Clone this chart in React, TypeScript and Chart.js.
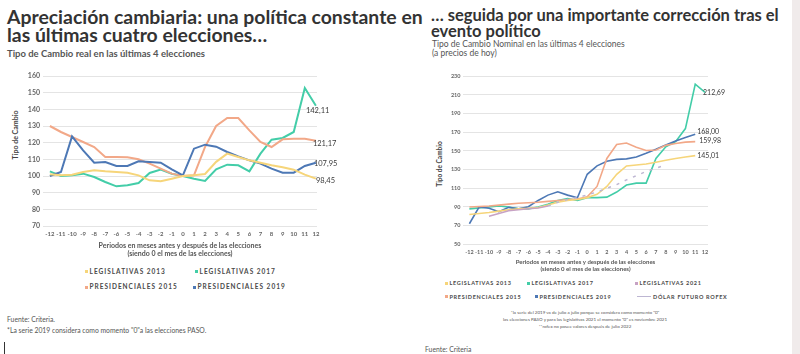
import React, { useEffect, useRef } from "react";
import { Chart, registerables } from "chart.js";

Chart.register(...registerables);

// ---------- DATA ----------
const PERIODS = [-12, -11, -10, -9, -8, -7, -6, -5, -4, -3, -2, -1, 0, 1, 2, 3, 4, 5, 6, 7, 8, 9, 10, 11, 12];

// Left chart: Tipo de Cambio real (base 100 = mes 0)
const realLeg2013 = [101, 100.4, 100.8, 102.4, 103.4, 102.8, 102.4, 102, 100.4, 97.4, 96.8, 98.4, 100, 100.4, 101.2, 108.5, 113.4, 111.4, 109.4, 108, 106.4, 105.2, 103.8, 100.8, 98.45];
const realLeg2017 = [102.8, 100, 100.4, 101.4, 99.4, 96.4, 93.8, 94.4, 95.8, 101.8, 103.8, 101.4, 100, 98.4, 97, 104, 106.8, 106.4, 102.8, 113.4, 121.8, 122.8, 126.4, 152.8, 142.11];
const realPres2015 = [130, 126.4, 123.4, 120.4, 117.4, 111.4, 111.4, 111.2, 110, 107.4, 104.4, 101.4, 100, 100.4, 117.4, 130, 134.8, 134.8, 127.4, 120.4, 117.4, 122, 122.4, 122.4, 121.17];
const realPres2019 = [100, 102.4, 123.8, 115.4, 108, 108.4, 106, 106, 108.8, 108.4, 108, 104, 100.4, 116.4, 118.8, 117.6, 114.4, 111.8, 109.4, 107.4, 104.4, 102, 102, 106, 107.95];

// Right chart: Tipo de Cambio nominal (a precios de hoy)
const nomLeg2013 = [82, 83, 84, 85.5, 87, 88, 88.5, 89.5, 92, 95, 97, 98, 100, 103.5, 112, 125, 134, 135, 136, 138, 140, 142, 143.5, 145.01, null];
const nomLeg2017 = [88, 89, 90, 91, 90, 88, 88, 90, 93, 97, 99, 97, 100, 100, 100.5, 106, 113.5, 115.5, 115.5, 142, 154.5, 160, 174, 221.5, 212.69];
const nomLeg2021 = [null, null, 80, 83, 86, 87, 88, 89, 91, null, null, null, null, null, null, null, null, null, null, null, null, null, null, null, null];
const nomPres2015 = [90, 90.5, 91, 92, 93, 94, 94.5, 95, 96, 97, 98, 98.5, 101, 112, 142, 157, 158.5, 154, 150.5, 151, 156, 158, 159.5, 159.98, null];
const nomPres2019 = [72, 90, 88.6, 85, 89.6, 88, 90.3, 97, 102.7, 106.3, 102.7, 99.8, 125, 134, 139, 141, 141.5, 143.6, 147.5, 151.8, 156.4, 160.7, 164.5, 168.0, null];
const nomRofex = [null, null, null, null, null, null, null, null, 91, 95, 98, 100, 103, 106, 110, 114, 119, 123.5, 128, 131.5, 135, null, null, null, null];

const realEndLabels = ["98,45", "142,11", "121,17", "107,95"];
const nomEndLabels = ["145,01", "212,69", "159,98", "168,00"];

// ---------- STYLE ----------
const YELLOW = "#F6D57A";
const GREEN = "#43CDA8";
const ORANGE = "#F2A888";
const BLUE = "#4D78B5";
const MAUVE = "#C7A2C4";
const ROFEX = "#BDB6D2";
const FONT = "Lato, 'Open Sans', sans-serif";

const toPoints = (arr: (number | null)[]) =>
  PERIODS.map((p, i) => ({ x: p, y: arr[i] })).filter((pt) => pt.y !== null);

const endLabelPlugin = {
  id: "endLabels",
  afterDatasetsDraw(chart: any, _args: any, opts: any) {
    const ctx = chart.ctx;
    chart.data.datasets.forEach((ds: any, i: number) => {
      if (!ds.endLabel) return;
      const meta = chart.getDatasetMeta(i);
      const pt = meta.data[meta.data.length - 1];
      if (!pt) return;
      ctx.save();
      ctx.font = opts.font;
      ctx.fillStyle = opts.color;
      ctx.textBaseline = "middle";
      ctx.textAlign = "left";
      ctx.fillText(ds.endLabel, pt.x + (ds.endDx || 0), pt.y + (ds.endDy || 0));
      ctx.restore();
    });
  },
};

function buildConfig(c: any) {
  return {
    type: "line",
    data: { datasets: c.datasets },
    plugins: [endLabelPlugin],
    options: {
      responsive: false,
      animation: false,
      events: [],
      layout: { padding: { left: 0, right: c.padRight, top: c.padTop, bottom: 0 } },
      elements: { point: { radius: 0 }, line: { tension: 0 } },
      plugins: {
        legend: { display: false },
        tooltip: { enabled: false },
        endLabels: { font: c.endFont, color: "#3a3a3a" },
      },
      scales: {
        x: {
          type: "linear",
          min: c.xMin,
          max: c.xMax,
          grid: { display: false, drawTicks: false },
          border: { display: false },
          afterBuildTicks: (s: any) => {
            s.ticks = PERIODS.map((v) => ({ value: v }));
          },
          afterFit: (s: any) => {
            s.height = c.xHeight;
          },
          ticks: {
            autoSkip: false,
            maxRotation: 0,
            padding: c.xTickPad,
            color: "#666",
            font: { family: FONT, size: c.xTickSize, weight: "bold" },
            callback: (v: any) => String(v),
          },
          title: {
            display: true,
            text: ["Periodos en meses antes y después de las elecciones", "(siendo 0 el mes de las elecciones)"],
            color: "#555",
            font: { family: FONT, size: c.xTitleSize, weight: "bold", lineHeight: 1.2 },
            padding: { top: 0, bottom: c.xTitlePadBottom },
          },
        },
        y: {
          min: c.yMin,
          max: c.yMax,
          grid: { color: "#e4e4e4", lineWidth: 1, drawTicks: false },
          border: { display: false },
          afterFit: (s: any) => {
            s.width = 43;
          },
          ticks: {
            stepSize: 10,
            padding: c.yTickPad,
            color: "#666",
            font: { family: FONT, size: c.yTickSize, weight: "bold" },
          },
        },
      },
    },
  };
}

function LineChart({ cfg, left, top, width, height }: any) {
  const ref = useRef<HTMLCanvasElement>(null);
  useEffect(() => {
    const chart = new Chart(ref.current as HTMLCanvasElement, buildConfig(cfg) as any);
    return () => chart.destroy();
  }, []);
  return (
    <canvas
      ref={ref}
      width={width}
      height={height}
      style={{ position: "absolute", left, top, width, height }}
    />
  );
}

const lineDs = (label: string, arr: any[], color: string, width: number, extra: any = {}) => ({
  label,
  data: toPoints(arr),
  borderColor: color,
  backgroundColor: color,
  borderWidth: width,
  fill: false,
  ...extra,
});

const leftCfg = {
  padRight: 23,
  padTop: 16,
  xMin: -12.62,
  xMax: 12.1,
  yMin: 70,
  yMax: 160,
  xHeight: 39,
  xTickPad: 4,
  xTickSize: 6,
  xTitleSize: 7,
  xTitlePadBottom: 7,
  yTickPad: 3,
  yTickSize: 7,
  endFont: `7.5px ${FONT}`,
  datasets: [
    lineDs("Legislativas 2013", realLeg2013, YELLOW, 2, { endLabel: realEndLabels[0], endDx: 0, endDy: 1.5 }),
    lineDs("Presidenciales 2019", realPres2019, BLUE, 2, { endLabel: realEndLabels[3], endDx: -2, endDy: 1 }),
    lineDs("Presidenciales 2015", realPres2015, ORANGE, 2, { endLabel: realEndLabels[2], endDx: -3, endDy: 3 }),
    lineDs("Legislativas 2017", realLeg2017, GREEN, 2, { endLabel: realEndLabels[1], endDx: -10, endDy: 4.5 }),
  ],
};

const rightCfg = {
  padRight: 32,
  padTop: 16.3,
  xMin: -12.65,
  xMax: 12.3,
  yMin: 50,
  yMax: 230,
  xHeight: 33.7,
  xTickPad: 5,
  xTickSize: 5.5,
  xTitleSize: 6,
  xTitlePadBottom: 5.4,
  yTickPad: 2.5,
  yTickSize: 5.5,
  endFont: `7px ${FONT}`,
  datasets: [
    lineDs("Dólar futuro ROFEX", nomRofex, ROFEX, 1.5, { borderDash: [3, 6] }),
    lineDs("Legislativas 2021", nomLeg2021, MAUVE, 1.5),
    lineDs("Legislativas 2013", nomLeg2013, YELLOW, 1.6, { endLabel: nomEndLabels[0], endDx: 2, endDy: 0 }),
    lineDs("Presidenciales 2015", nomPres2015, ORANGE, 1.6, { endLabel: nomEndLabels[2], endDx: 4, endDy: -1 }),
    lineDs("Presidenciales 2019", nomPres2019, BLUE, 1.6, { endLabel: nomEndLabels[3], endDx: 2, endDy: -2 }),
    lineDs("Legislativas 2017", nomLeg2017, GREEN, 1.6, { endLabel: nomEndLabels[1], endDx: -2, endDy: 0 }),
  ],
};

const abs = (left: number, top: number, extra: any = {}): React.CSSProperties => ({
  position: "absolute",
  left,
  top,
  whiteSpace: "nowrap",
  fontFamily: FONT,
  ...extra,
});

function LegendItem({ x, y, color, text, size, spacing, line }: any) {
  return (
    <div style={abs(x, y - 5, { height: 10, lineHeight: "10px", fontSize: size, fontWeight: 700, letterSpacing: spacing, color: "#4a4a4a", display: "flex", alignItems: "center" })}>
      {line ? (
        <span style={{ display: "inline-block", width: 14, height: 1.5, background: color, marginRight: 2 }} />
      ) : (
        <span style={{ display: "inline-block", width: 3, height: 3, background: color, marginRight: 1.5 }} />
      )}
      {text}
    </div>
  );
}

export default function App() {
  return (
    <div style={{ position: "absolute", left: 0, top: 0, width: 800, height: 354, background: "#fff", overflow: "hidden" }}>
      {/* Left panel */}
      <div style={abs(7, 8, { fontSize: 19.4, lineHeight: "18px", fontWeight: 700, color: "#333" })}>
        Apreciación cambiaria: una política constante en
        <br />
        las últimas cuatro elecciones…
      </div>
      <div style={abs(7, 49, { fontSize: 9.5, lineHeight: "10px", fontWeight: 700, color: "#555" })}>
        Tipo de Cambio real en las últimas 4 elecciones
      </div>
      <div style={abs(15, 135, { fontSize: 7, fontWeight: 700, color: "#444", transform: "translate(-50%, -50%) rotate(-90deg)", lineHeight: "8px" })}>
        Tipo de Cambio
      </div>
      <LineChart cfg={leftCfg} left={0} top={60} width={340} height={205} />
      <LegendItem x={85} y={271.7} color={YELLOW} text="LEGISLATIVAS 2013" size={6.5} spacing={1} />
      <LegendItem x={195} y={271.7} color={GREEN} text="LEGISLATIVAS 2017" size={6.5} spacing={1} />
      <LegendItem x={85} y={287.3} color={ORANGE} text="PRESIDENCIALES 2015" size={6.5} spacing={1} />
      <LegendItem x={193} y={287.3} color={BLUE} text="PRESIDENCIALES 2019" size={6.5} spacing={1} />
      <div style={abs(7, 315, { fontSize: 6.8, lineHeight: "8px", color: "#555" })}>Fuente: Criteria.</div>
      <div style={abs(7, 326, { fontSize: 6.8, lineHeight: "8px", color: "#555" })}>
        *La serie 2019 considera como momento "0"a las elecciones PASO.
      </div>
      <div style={{ position: "absolute", left: 4, top: 342, width: 1, height: 12, background: "#333" }} />

      {/* Right panel */}
      <div style={abs(431, 8, { fontSize: 16.5, lineHeight: "15.5px", fontWeight: 700, color: "#333" })}>
        … seguida por una importante corrección tras el
        <br />
        evento político
      </div>
      <div style={abs(432, 39.5, { fontSize: 8.5, lineHeight: "9px", color: "#555" })}>
        Tipo de Cambio Nominal en las últimas 4 elecciones
        <br />
        (a precios de hoy)
      </div>
      <div style={abs(440, 164, { fontSize: 6.5, fontWeight: 700, color: "#444", transform: "translate(-50%, -50%) rotate(-90deg)", lineHeight: "8px" })}>
        Tipo de Cambio
      </div>
      <LineChart cfg={rightCfg} left={420} top={60} width={320} height={218} />
      <LegendItem x={445} y={283.3} color={YELLOW} text="LEGISLATIVAS 2013" size={5.5} spacing={0.7} />
      <LegendItem x={527} y={283.3} color={GREEN} text="LEGISLATIVAS 2017" size={5.5} spacing={0.7} />
      <LegendItem x={635} y={283.3} color={MAUVE} text="LEGISLATIVAS 2021" size={5.5} spacing={0.7} />
      <LegendItem x={445} y={296.7} color={ORANGE} text="PRESIDENCIALES 2015" size={5.5} spacing={0.7} />
      <LegendItem x={535} y={296.7} color={BLUE} text="PRESIDENCIALES 2019" size={5.5} spacing={0.7} />
      <LegendItem x={637} y={296.7} color={ROFEX} text="DÓLAR FUTURO ROFEX" size={5.5} spacing={0.7} line />
      <div style={abs(585, 309, { fontSize: 4.5, lineHeight: "7.2px", color: "#555", textAlign: "center", transform: "translateX(-50%)" })}>
        *la serie del 2019 va de julio a julio porque se considera como momento "0"
        <br />
        las elecciones PASO y para las legislativas 2021 el momento "0" es noviembre 2021
        <br />
        **rofex no posee valores después de julio 2022
      </div>
      <div style={abs(425, 345, { fontSize: 6.8, lineHeight: "8px", color: "#555" })}>Fuente: Criteria</div>
      <div style={{ position: "absolute", left: 792, top: 0, width: 8, height: 354, background: "#f0ebeb" }} />
    </div>
  );
}
